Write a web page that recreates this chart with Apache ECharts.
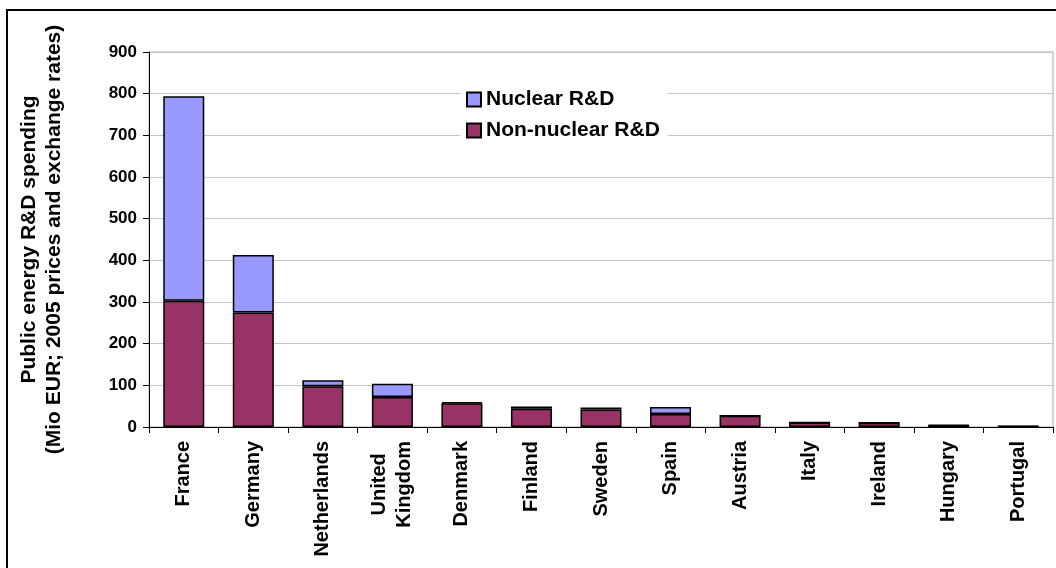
<!DOCTYPE html>
<html>
<head>
<meta charset="utf-8">
<script src="https://cdn.jsdelivr.net/npm/echarts@6/dist/echarts.min.js"></script>
<style>
    html, body { margin: 0; padding: 0; background: #fff; }
    #chart { width: 1056px; height: 568px; }
</style>
</head>
<body>
<div id="chart"></div>
<script>
var countries = ['France', 'Germany', 'Netherlands', 'United\nKingdom', 'Denmark', 'Finland',
    'Sweden', 'Spain', 'Austria', 'Italy', 'Ireland', 'Hungary', 'Portugal'];
var nonNuclear = [303, 275, 98, 72, 57, 44, 42, 31, 27, 11, 10, 4, 2];
var nuclear = [491, 138, 14, 32, 3, 5, 5, 17, 0, 0, 0, 1, 0];
var yTicks = [0, 100, 200, 300, 400, 500, 600, 700, 800, 900];

var chart = echarts.init(document.getElementById('chart'));

var font = "'Liberation Sans', Arial, sans-serif";

var option = {
    animation: false,
    textStyle: { fontFamily: font },
    graphic: [{
        type: 'rect',
        shape: { x: 7, y: 10, width: 1070, height: 600 },
        style: { fill: 'none', stroke: '#000', lineWidth: 2 },
        z: 100
    }],
    legend: {
        orient: 'vertical',
        left: 460,
        top: 82,
        padding: [6, 8, 6, 6],
        backgroundColor: '#fff',
        icon: 'rect',
        itemWidth: 14,
        itemHeight: 14,
        itemGap: 8,
        data: ['Nuclear R&D', 'Non-nuclear R&D'],
        textStyle: { fontSize: 21, fontWeight: 'bold', color: '#000', fontFamily: font, lineHeight: 23 }
    },
    grid: {
        left: 149,
        right: 3,
        top: 52,
        bottom: 141,
        show: true,
        borderColor: '#aaa',
        borderWidth: 1
    },
    xAxis: {
        type: 'category',
        data: countries,
        axisLine: { lineStyle: { color: '#000', width: 1 } },
        axisTick: { show: true, length: 6, lineStyle: { color: '#000' } },
        axisLabel: {
            interval: 0,
            rotate: 90,
            margin: 14,
            formatter: function (v) {
                return v.split('\n').map(function (s) { return '{c|' + s + '}'; }).join('\n');
            },
            rich: {
                c: { align: 'center', fontSize: 20, fontWeight: 'bold', color: '#000', fontFamily: font, lineHeight: 25 }
            }
        }
    },
    yAxis: {
        type: 'value',
        min: 0,
        max: 900,
        interval: 100,
        name: 'Public energy R&D spending\n(Mio EUR; 2005 prices and exchange rates)',
        nameLocation: 'middle',
        nameRotate: 90,
        nameGap: 82,
        nameTextStyle: { fontSize: 21, fontWeight: 'bold', color: '#000', fontFamily: font, lineHeight: 25 },
        axisLine: { show: true, lineStyle: { color: '#000', width: 1 } },
        axisTick: { show: true, length: 6, lineStyle: { color: '#000' } },
        axisLabel: {
            margin: 12,
            fontSize: 17,
            fontWeight: 'bold',
            color: '#000',
            formatter: function (v) { return yTicks.indexOf(v) >= 0 ? String(v) : ''; }
        },
        splitLine: { lineStyle: { color: '#c4c4c4', width: 1 } }
    },
    series: [{
        name: 'Non-nuclear R&D',
        type: 'bar',
        stack: 'total',
        barWidth: '59%',
        data: nonNuclear,
        itemStyle: { color: '#993366', borderColor: '#000', borderWidth: 1.5 }
    }, {
        name: 'Nuclear R&D',
        type: 'bar',
        stack: 'total',
        barWidth: '59%',
        data: nuclear,
        itemStyle: { color: '#9999ff', borderColor: '#000', borderWidth: 1.5 }
    }]
};

chart.setOption(option);
</script>
</body>
</html>
